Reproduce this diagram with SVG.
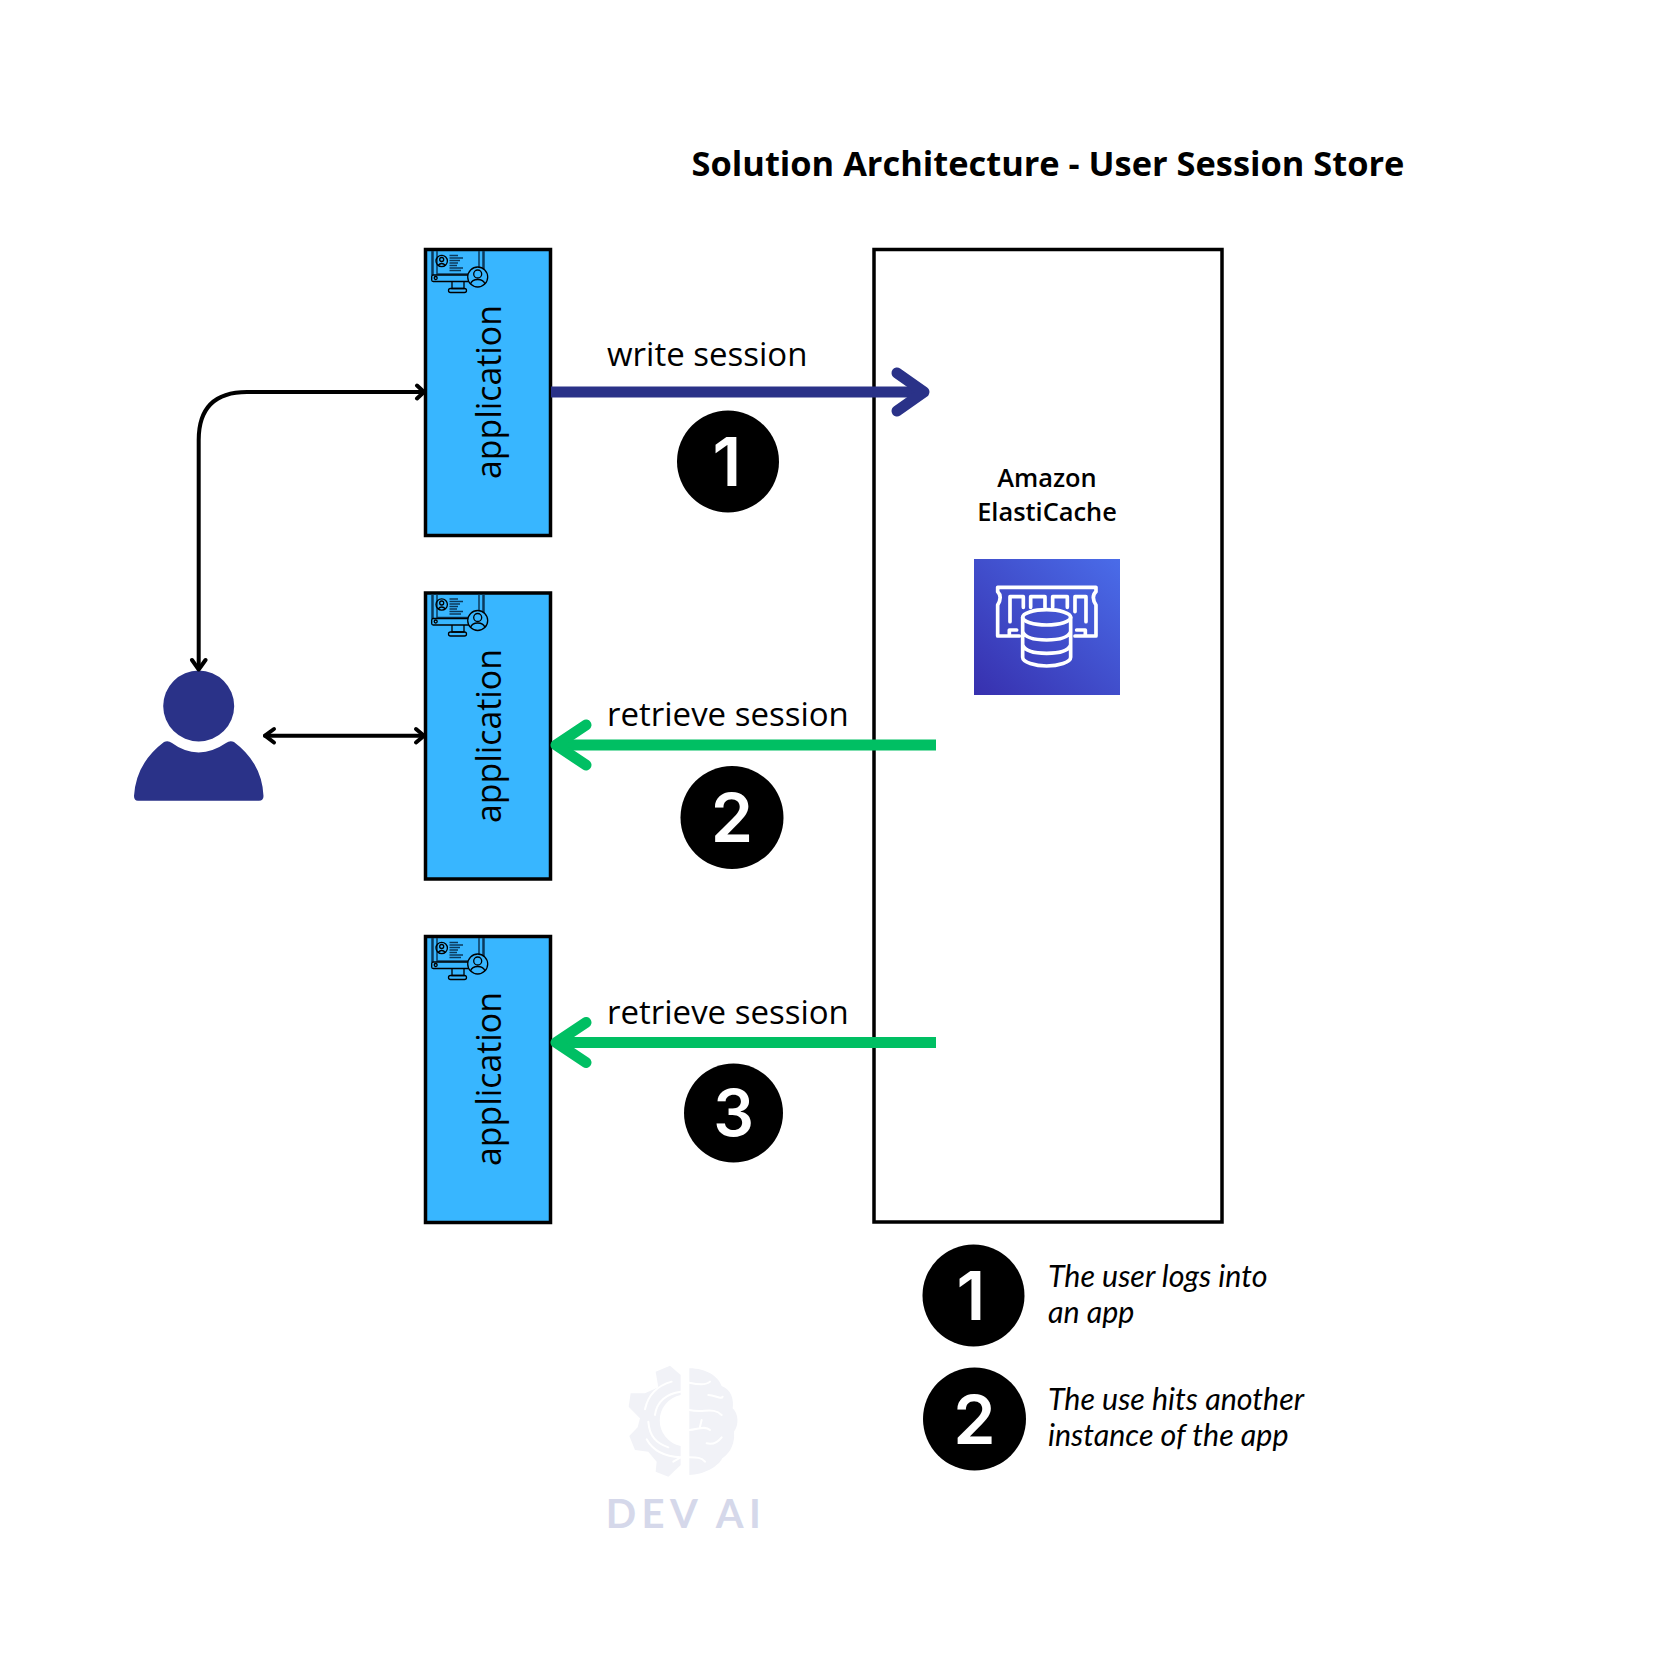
<svg xmlns="http://www.w3.org/2000/svg" xmlns:xlink="http://www.w3.org/1999/xlink" width="1679" height="1671" viewBox="0 0 1679 1671">
<defs>
<style>
text{font-family:"Open Sans","Noto Sans",sans-serif;fill:#000}
.title{font-size:34.400px;font-weight:700;text-anchor:middle}
.label{font-size:33px}
.app{font-size:33.800px;text-anchor:middle}
.svc{font-size:25.400px;font-weight:600;text-anchor:middle}
.num{font-family:Inter,"Liberation Sans",sans-serif;font-weight:600;fill:#fff;text-anchor:middle}
.note{font-family:Lato,"Open Sans",sans-serif;font-style:italic;font-size:30.400px}
.box{fill:#38b6ff;stroke:#000;stroke-width:3.500}
.thin{fill:none;stroke:#000;stroke-width:4;stroke-linecap:round;stroke-linejoin:round}
.blue{fill:none;stroke:#2a3288;stroke-width:11;stroke-linecap:round;stroke-linejoin:round}
.green{fill:none;stroke:#00bf63;stroke-width:11;stroke-linecap:round;stroke-linejoin:round}
.butt{stroke-linecap:butt}
.ic{fill:none;stroke:#0b3a5c;stroke-width:1.500}
.icb{fill:none;stroke:#0b3a5c;stroke-width:2.500}
.ick{fill:none;stroke:#000;stroke-width:1.300}
.mem{fill:none;stroke:#fff;stroke-width:11;stroke-linejoin:round;stroke-linecap:round}
</style>
<linearGradient id="awsg" x1="0" y1="1" x2="1" y2="0"><stop offset="0" stop-color="#3730ae"/><stop offset="1" stop-color="#4a6ce9"/></linearGradient>
<g id="appicon">
<path class="icb" d="M12.500 251V275M63.500 251V272"/>
<path class="ic" d="M17 251V274H59V251"/>
<rect class="ick" x="11.700" y="275" width="38" height="6.500" rx="1.500"/>
<circle class="ick" cx="15.700" cy="278" r="1.500"/>
<path class="ick" d="M32 281.500V288.500H44V281.500"/>
<rect class="ick" x="28.500" y="288.500" width="18" height="4" rx="2"/>
<circle cx="57.700" cy="277" r="10" fill="#38b6ff" stroke="#000" stroke-width="1.300"/>
<circle class="ick" cx="57.700" cy="274" r="4"/>
<path class="ick" d="M50.500 284Q52 279.500 57.700 279.500T65 284"/>
<circle class="ick" cx="21.700" cy="261" r="5.700"/>
<circle class="ick" cx="21.700" cy="259.500" r="2"/>
<path class="ick" d="M18 265.500Q21.700 261.500 25.500 265.500"/>
<path class="ic" d="M29.500 255.500H38M29.500 258H43M29.500 260.500H40M29.500 263H38M29.500 265.500H37M29.500 268H43M29.500 270.500H41"/>
</g>
</defs>
<rect width="1679" height="1671" fill="#fff"/>
<text class="title" x="1048" y="175.500">Solution Architecture - User Session Store</text>

<g id="elasticache">
<rect x="874" y="249.500" width="348" height="972.500" fill="#fff" stroke="#000" stroke-width="3.500"/>
<text class="svc" x="1047" y="487">Amazon</text>
<text class="svc" x="1047" y="521">ElastiCache</text>
<rect x="974" y="559" width="146" height="136" fill="url(#awsg)"/>
<g transform="translate(960 550) scale(.3333)">
<path class="mem" d="M178 258H148V240H170M345 258H376V240H350M113 112H408V125Q392 140 408 165V258H376M113 112V125Q128 140 113 165V258H148"/>
<path class="mem" d="M150 215V140H190V172M212 172V140H255V172M278 172V140H322V172M345 185V140H378V215"/>
<ellipse class="mem" cx="260" cy="202" rx="72" ry="23"/>
<path class="mem" d="M188 202V322C188 337 225 348 260 348S332 337 332 322V202M188 245C195 262 225 270 260 270S325 262 332 245M188 285C195 302 225 310 260 310S325 302 332 285"/>
</g>
</g>

<g id="app-1">
<rect class="box" x="425.500" y="249.500" width="125" height="286"/>
<use xlink:href="#appicon" href="#appicon" x="420"/>
<text class="app" transform="translate(501 392) rotate(-90)">application</text>
</g>
<g id="app-2">
<rect class="box" x="425.500" y="593" width="125" height="286"/>
<use xlink:href="#appicon" href="#appicon" x="420" y="343.500"/>
<text class="app" transform="translate(501 736) rotate(-90)">application</text>
</g>
<g id="app-3">
<rect class="box" x="425.500" y="936.500" width="125" height="286"/>
<use xlink:href="#appicon" href="#appicon" x="420" y="687"/>
<text class="app" transform="translate(501 1079) rotate(-90)">application</text>
</g>

<g id="user">
<circle cx="198.700" cy="706" r="35.500" fill="#2a3288"/>
<path fill="#2a3288" d="M164 742Q168 740 172 743Q184 752 198.700 752.500Q213 752 226 743Q230 740 234 742Q262 763 263.500 796Q263.500 800.700 259 800.700H138Q134 800.700 134 796Q136 763 164 742Z"/>
</g>

<g id="connectors">
<path class="thin" d="M198.700 668V440Q198.700 392 247 392H424"/>
<path class="thin" d="M192 660L198.700 669.500L205.500 660M417 385.500L424 392L417 398.500"/>
<path class="thin" d="M265 735.700H423"/>
<path class="thin" d="M274 729L265 735.700L274 742.500M416 729L424 735.700L416 742.500"/>
<path class="blue butt" d="M551 392H922"/><path class="blue" d="M897 373L924 392L897 411"/>
<path class="green butt" d="M936 745H558"/><path class="green" d="M586 725L556 745L586 765"/>
<path class="green butt" d="M936 1042.500H558"/><path class="green" d="M586 1022.500L556 1042.500L586 1062.500"/>
</g>

<g id="labels">
<text class="label" x="607" y="366">write session</text>
<text class="label" x="607" y="726">retrieve session</text>
<text class="label" x="607" y="1024">retrieve session</text>
</g>

<g id="step-1"><circle cx="728" cy="461.500" r="51"/><text class="num" x="727" y="486" font-size="68">1</text></g>
<g id="step-2"><circle cx="732" cy="817.500" r="51.500"/><text class="num" x="732" y="842" font-size="68">2</text></g>
<g id="step-3"><circle cx="733.500" cy="1113" r="49.500"/><text class="num" x="733.500" y="1136" font-size="64">3</text></g>

<g id="legend-1"><circle cx="973.500" cy="1295.500" r="51"/><text class="num" x="971" y="1320" font-size="68">1</text>
<text class="note" x="1048" y="1287">The user logs into</text><text class="note" x="1048" y="1323">an app</text></g>
<g id="legend-2"><circle cx="974.500" cy="1419" r="51.500"/><text class="num" x="974.500" y="1444" font-size="68">2</text>
<text class="note" x="1048" y="1410">The use hits another</text><text class="note" x="1048" y="1446">instance of the app</text></g>

<g id="logo">
<g transform="translate(590 1350) scale(.3333)">
<path fill="#f1f2f7" d="M272 75L240 47L197 65L205 112L165 130L122 130L116 170L150 205L143 232L118 258L135 300L175 305L200 335L197 365L235 380L272 345V288A78 78 0 0 1 272 135Z"/>
<path fill="#f1f2f7" d="M298 55C350 55 385 80 395 108C425 120 432 150 428 175C445 190 448 225 432 245C435 275 425 305 397 325C385 350 340 375 298 375Z"/>
<path fill="none" stroke="#fff" stroke-width="6" stroke-linecap="round" d="M298 98C330 105 350 105 360 95M355 135C375 135 395 150 398 140M298 180C340 190 370 170 395 195M298 240C320 240 345 225 360 240M335 210L330 230M350 280C370 285 385 275 395 262M298 322C320 322 335 322 345 335M165 178C175 130 210 105 245 95M195 195C200 155 230 130 272 125M175 215C178 260 200 280 235 292M170 268C190 305 225 320 272 322M250 335L272 322"/>
</g>
<text x="686" y="1528" text-anchor="middle" style="font-family:Lato,'Open Sans',sans-serif;font-size:40px;font-weight:700;letter-spacing:5.500px;fill:#d5d8ea">DEV AI</text>
</g>
</svg>
